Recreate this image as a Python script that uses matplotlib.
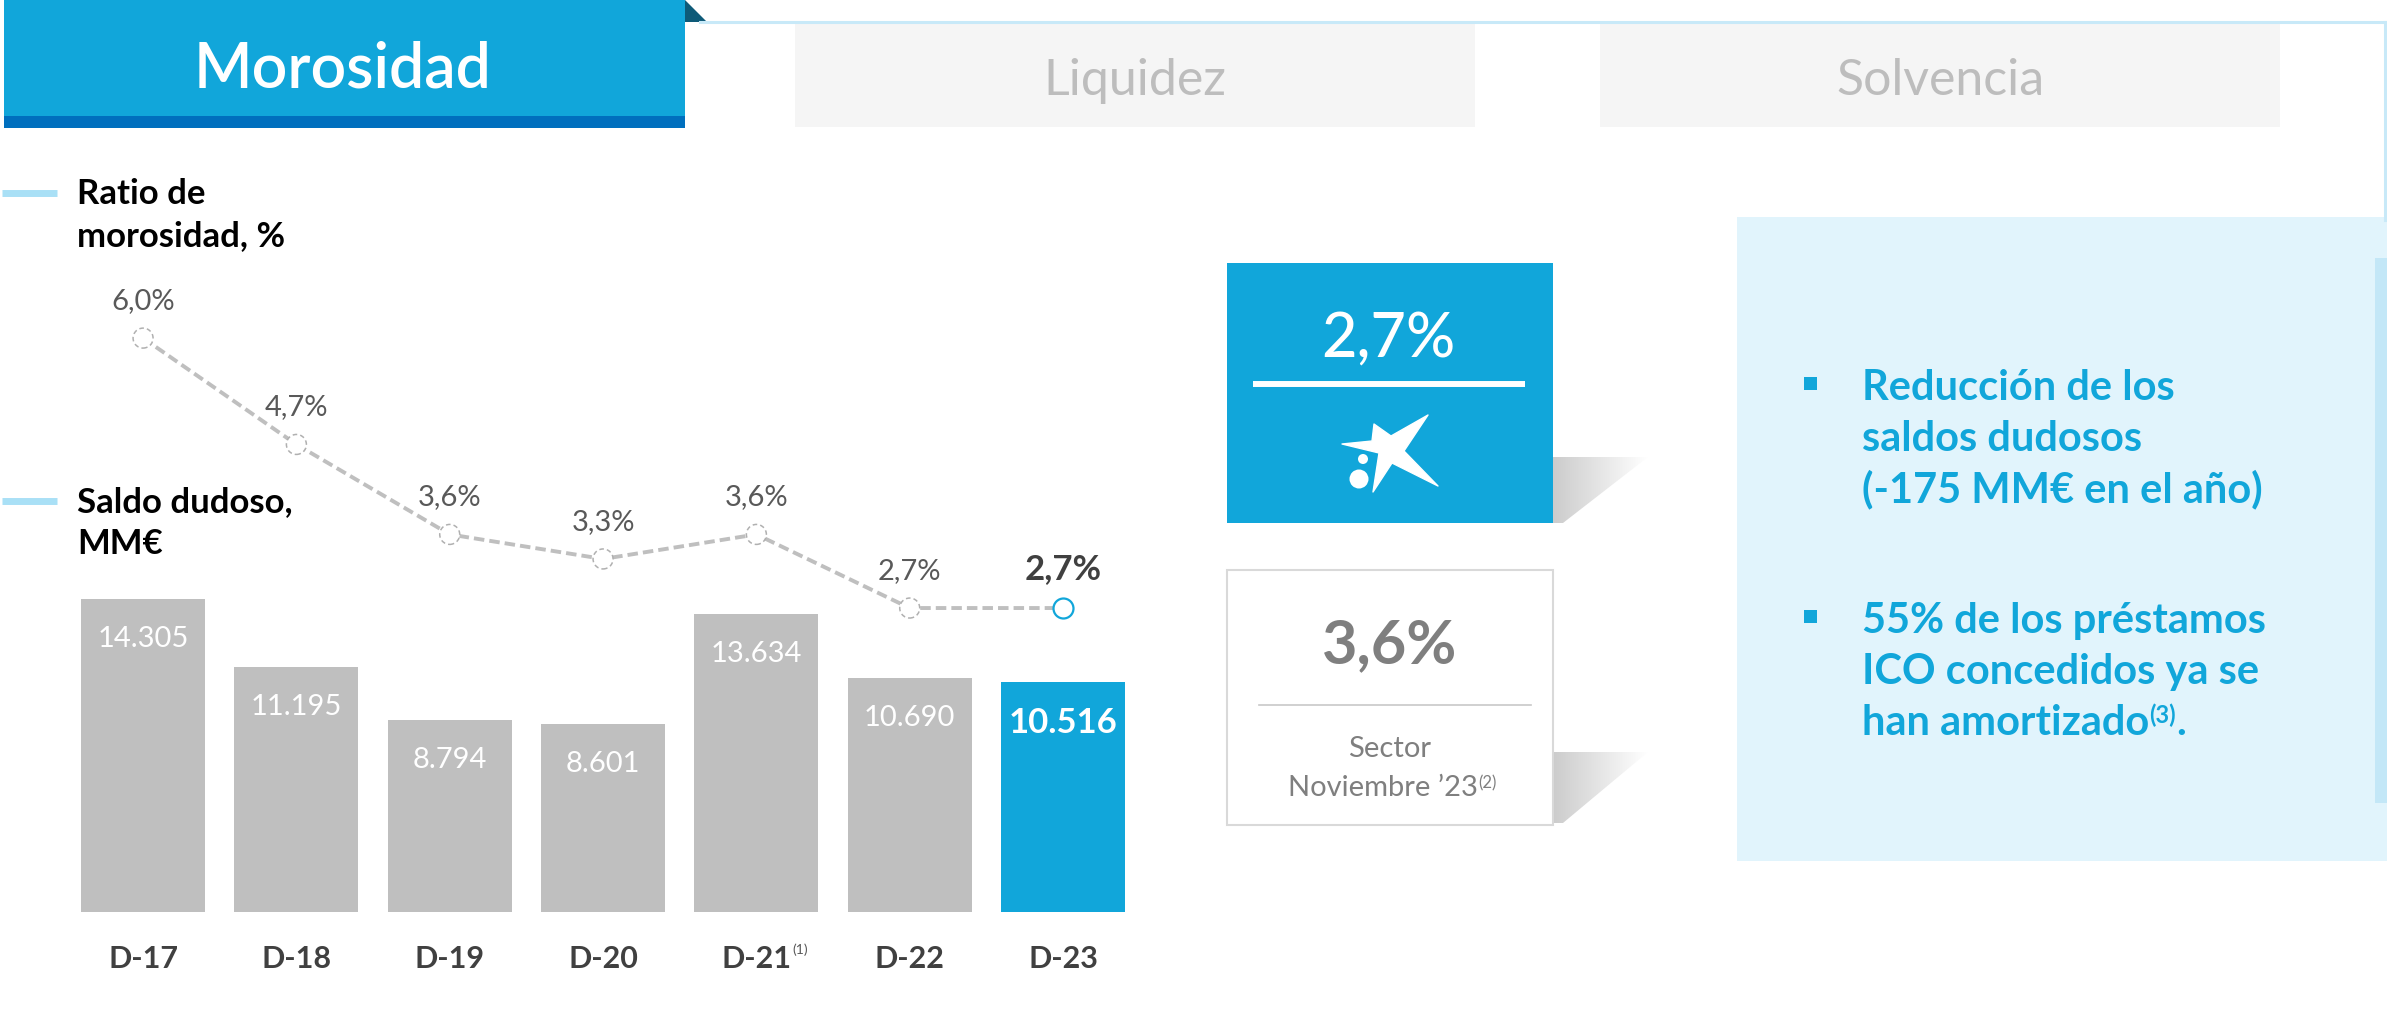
import numpy as np
import matplotlib.pyplot as plt
from matplotlib.patches import Rectangle, Polygon, Circle
from matplotlib.colors import LinearSegmentedColormap

plt.rcParams['font.family'] = ['Lato', 'DejaVu Sans']

# data
periods = ["D-17", "D-18", "D-19", "D-20", "D-21", "D-22", "D-23"]
saldo_dudoso = [14305, 11195, 8794, 8601, 13634, 10690, 10516]
ratio_morosidad = [6.0, 4.7, 3.6, 3.3, 3.6, 2.7, 2.7]
period_notes = {"D-21": "(1)"}
caixa_ratio = 2.7
sector_ratio = 3.6
bullets = [
    ["Reducción de los", "saldos dudosos", "(-175 MM€ en el año)"],
    ["55% de los préstamos", "ICO concedidos ya se", "han amortizado"],
]

BLUE = '#11a6da'
GREY = '#bfbfbf'
W, H = 2387, 1033


def pct(v):
    return f"{v:.1f}%".replace('.', ',')


def miles(v):
    return f"{v:,}".replace(',', '.')


fig = plt.figure(figsize=(W / 100, H / 100), dpi=100)
fig.patch.set_facecolor('white')

# background layer in pixel coordinates
bg = fig.add_axes([0, 0, 1, 1])
bg.set_autoscale_on(False)
bg.set_xlim(0, W)
bg.set_ylim(H, 0)
bg.axis('off')

# header tabs
bg.plot([700, 2385], [22, 22], color='#c8e9f8', lw=2.2)
bg.plot([2385, 2385], [22, 220], color='#c8e9f8', lw=2.2)
bg.add_patch(Rectangle((4, 0), 681, 116, fc=BLUE, ec='none'))
bg.add_patch(Rectangle((4, 116), 681, 12, fc='#006fbe', ec='none'))
bg.add_patch(Polygon([(685, 0), (707, 22), (685, 22)], fc='#0e5a78', ec='none'))
bg.text(343, 87, "Morosidad", color='white', fontsize=45, fontweight='semibold',
        ha='center', va='baseline')
for x0, label in [(795, "Liquidez"), (1600, "Solvencia")]:
    bg.add_patch(Rectangle((x0, 24), 680, 103, fc='#f5f5f5', ec='none'))
    bg.text(x0 + 340, 95, label, color='#bdbdbd', fontsize=36,
            ha='center', va='baseline')

# legend labels on the left
for y_line, lines in [(193, ["Ratio de", "morosidad, %"]), (501, ["Saldo dudoso,", "MM€"])]:
    bg.plot([2, 57], [y_line, y_line], color='#a9e0f6', lw=5, solid_capstyle='butt')
    for k, s in enumerate(lines):
        bg.text(77, y_line + 11 + 42 * k, s, fontsize=25, fontweight='bold',
                color='black', va='baseline')

# chart: bars + ratio line
ax = fig.add_axes([66.4 / W, (H - 912) / H, 1073.3 / W, 662 / H])
ax.patch.set_alpha(0)
x = np.arange(len(periods))
bar_colors = [GREY] * (len(periods) - 1) + [BLUE]
ax.bar(x, saldo_dudoso, width=0.81, color=bar_colors)
ax.set_xlim(-0.5, len(periods) - 0.5)
ax.set_ylim(0, 30254)
for i, v in enumerate(saldo_dudoso):
    last = i == len(periods) - 1
    ax.annotate(miles(v), (i, v), xytext=(0, -(51 if last else 48) * 0.72),
                textcoords='offset points', ha='center', va='baseline', color='white',
                fontsize=25 if last else 21, fontweight='bold' if last else 'normal')
for i, p in enumerate(periods):
    t = ax.annotate(p, (i, 0), xytext=(0, -56 * 0.72), textcoords='offset points',
                    ha='center', va='baseline', fontsize=22, fontweight='bold', color='#404040')
    if p in period_notes:
        ax.annotate(period_notes[p], xy=(1, 1), xycoords=t, xytext=(1, 1),
                    textcoords='offset points', ha='left', va='top', fontsize=10,
                    color='#595959')
ax.set_xticks([])
ax.set_yticks([])
for s in ax.spines.values():
    s.set_visible(False)

ax2 = ax.twinx()
ax2.set_ylim(-1.016, 7.077)
ax2.plot(x, ratio_morosidad, color=GREY, lw=2.8, dashes=(2.7, 1.3), zorder=2)
ax2.scatter(x[:-1], ratio_morosidad[:-1], s=207, facecolors='white', edgecolors='#b0b0b0',
            linewidths=1.1, linestyles=(0, (3, 2)), zorder=3)
ax2.scatter(x[-1:], ratio_morosidad[-1:], s=207, facecolors='white', edgecolors=BLUE,
            linewidths=1.6, zorder=3)
for i, v in enumerate(ratio_morosidad):
    last = i == len(periods) - 1
    ax2.annotate(pct(v), (i, v), xytext=(0, 29 * 0.72), textcoords='offset points',
                 ha='center', va='baseline', fontsize=25 if last else 21,
                 fontweight='bold' if last else 'normal',
                 color='#404040' if last else '#595959')
ax2.set_yticks([])
for s in ax2.spines.values():
    s.set_visible(False)

# middle panel: CaixaBank vs sector
shadow_cmap = LinearSegmentedColormap.from_list('sh', ['#cccccc', '#ffffff'])


def shadow(y_top, y_bot, x0=1553):
    poly = Polygon([(x0, y_top), (x0 + 95, y_top), (x0 + 10, y_bot), (x0, y_bot)],
                   fc='none', ec='none')
    bg.add_patch(poly)
    grad = np.linspace(0, 1, 100).reshape(1, -1)
    im = bg.imshow(grad, cmap=shadow_cmap, extent=[x0, x0 + 95, y_bot, y_top],
                   aspect='auto', zorder=0.5)
    im.set_clip_path(poly)


shadow(457, 523)
shadow(752, 823)
bg.add_patch(Rectangle((1227, 263), 326, 260, fc=BLUE, ec='none', zorder=1))
bg.text(1388, 358, pct(caixa_ratio), color='white', fontsize=44, fontweight='medium',
        ha='center', va='baseline')
bg.plot([1253, 1525], [384, 384], color='white', lw=4.3, solid_capstyle='butt')
# CaixaBank star logo (white)
star = [(1342, 444), (1372, 441), (1374, 424), (1391, 436), (1428, 415), (1404, 451),
        (1438, 486), (1392, 463), (1373, 492), (1379, 453)]
bg.add_patch(Polygon(star, fc='white', ec='white', lw=1, joinstyle='round', zorder=2))
bg.add_patch(Circle((1359, 479), 9.5, fc='white', ec='none', zorder=2))
bg.add_patch(Circle((1363, 459), 5, fc='white', ec='none', zorder=2))

bg.add_patch(Rectangle((1227, 570), 326, 255, fc='white', ec='#d9d9d9', lw=1.5, zorder=1))
bg.text(1390, 663, pct(sector_ratio), color='#7f7f7f', fontsize=44, fontweight='bold',
        ha='center', va='baseline', zorder=2)
bg.plot([1259, 1531], [705, 705], color='#c8c8c8', lw=1.2, zorder=2)
bg.text(1390, 757, "Sector", color='#7f7f7f', fontsize=21,
        ha='center', va='baseline', zorder=2)
nov = bg.text(1383, 796, "Noviembre \u201923", color='#7f7f7f', fontsize=21,
              ha='center', va='baseline', zorder=2)
bg.annotate("(2)", xy=(1, 1), xycoords=nov, ha='left', va='top', fontsize=12,
            color='#7f7f7f', zorder=2)

# right panel
bg.add_patch(Rectangle((1737, 217), W - 1737, 644, fc='#e1f4fc', ec='none'))
bg.add_patch(Rectangle((2375, 258), 12, 545, fc='#c3e7f7', ec='none'))
for b, (y0, lines) in enumerate(zip([400, 633], bullets)):
    bg.add_patch(Rectangle((1804, y0 - 23), 13, 13, fc=BLUE, ec='none'))
    for k, s in enumerate(lines):
        t = bg.text(1862, y0 + 51 * k, s, color=BLUE, fontsize=30, fontweight='bold',
                    va='baseline')
    if b == 1:
        sup = bg.annotate("(3)", xy=(1, 1), xycoords=t, ha='left', va='top',
                          fontsize=17, fontweight='bold', color=BLUE)
        bg.annotate(".", xy=(1, 0), xycoords=(sup, t), ha='left', va='bottom',
                    fontsize=30, fontweight='bold', color=BLUE)

fig.savefig("out.png", dpi=100)
